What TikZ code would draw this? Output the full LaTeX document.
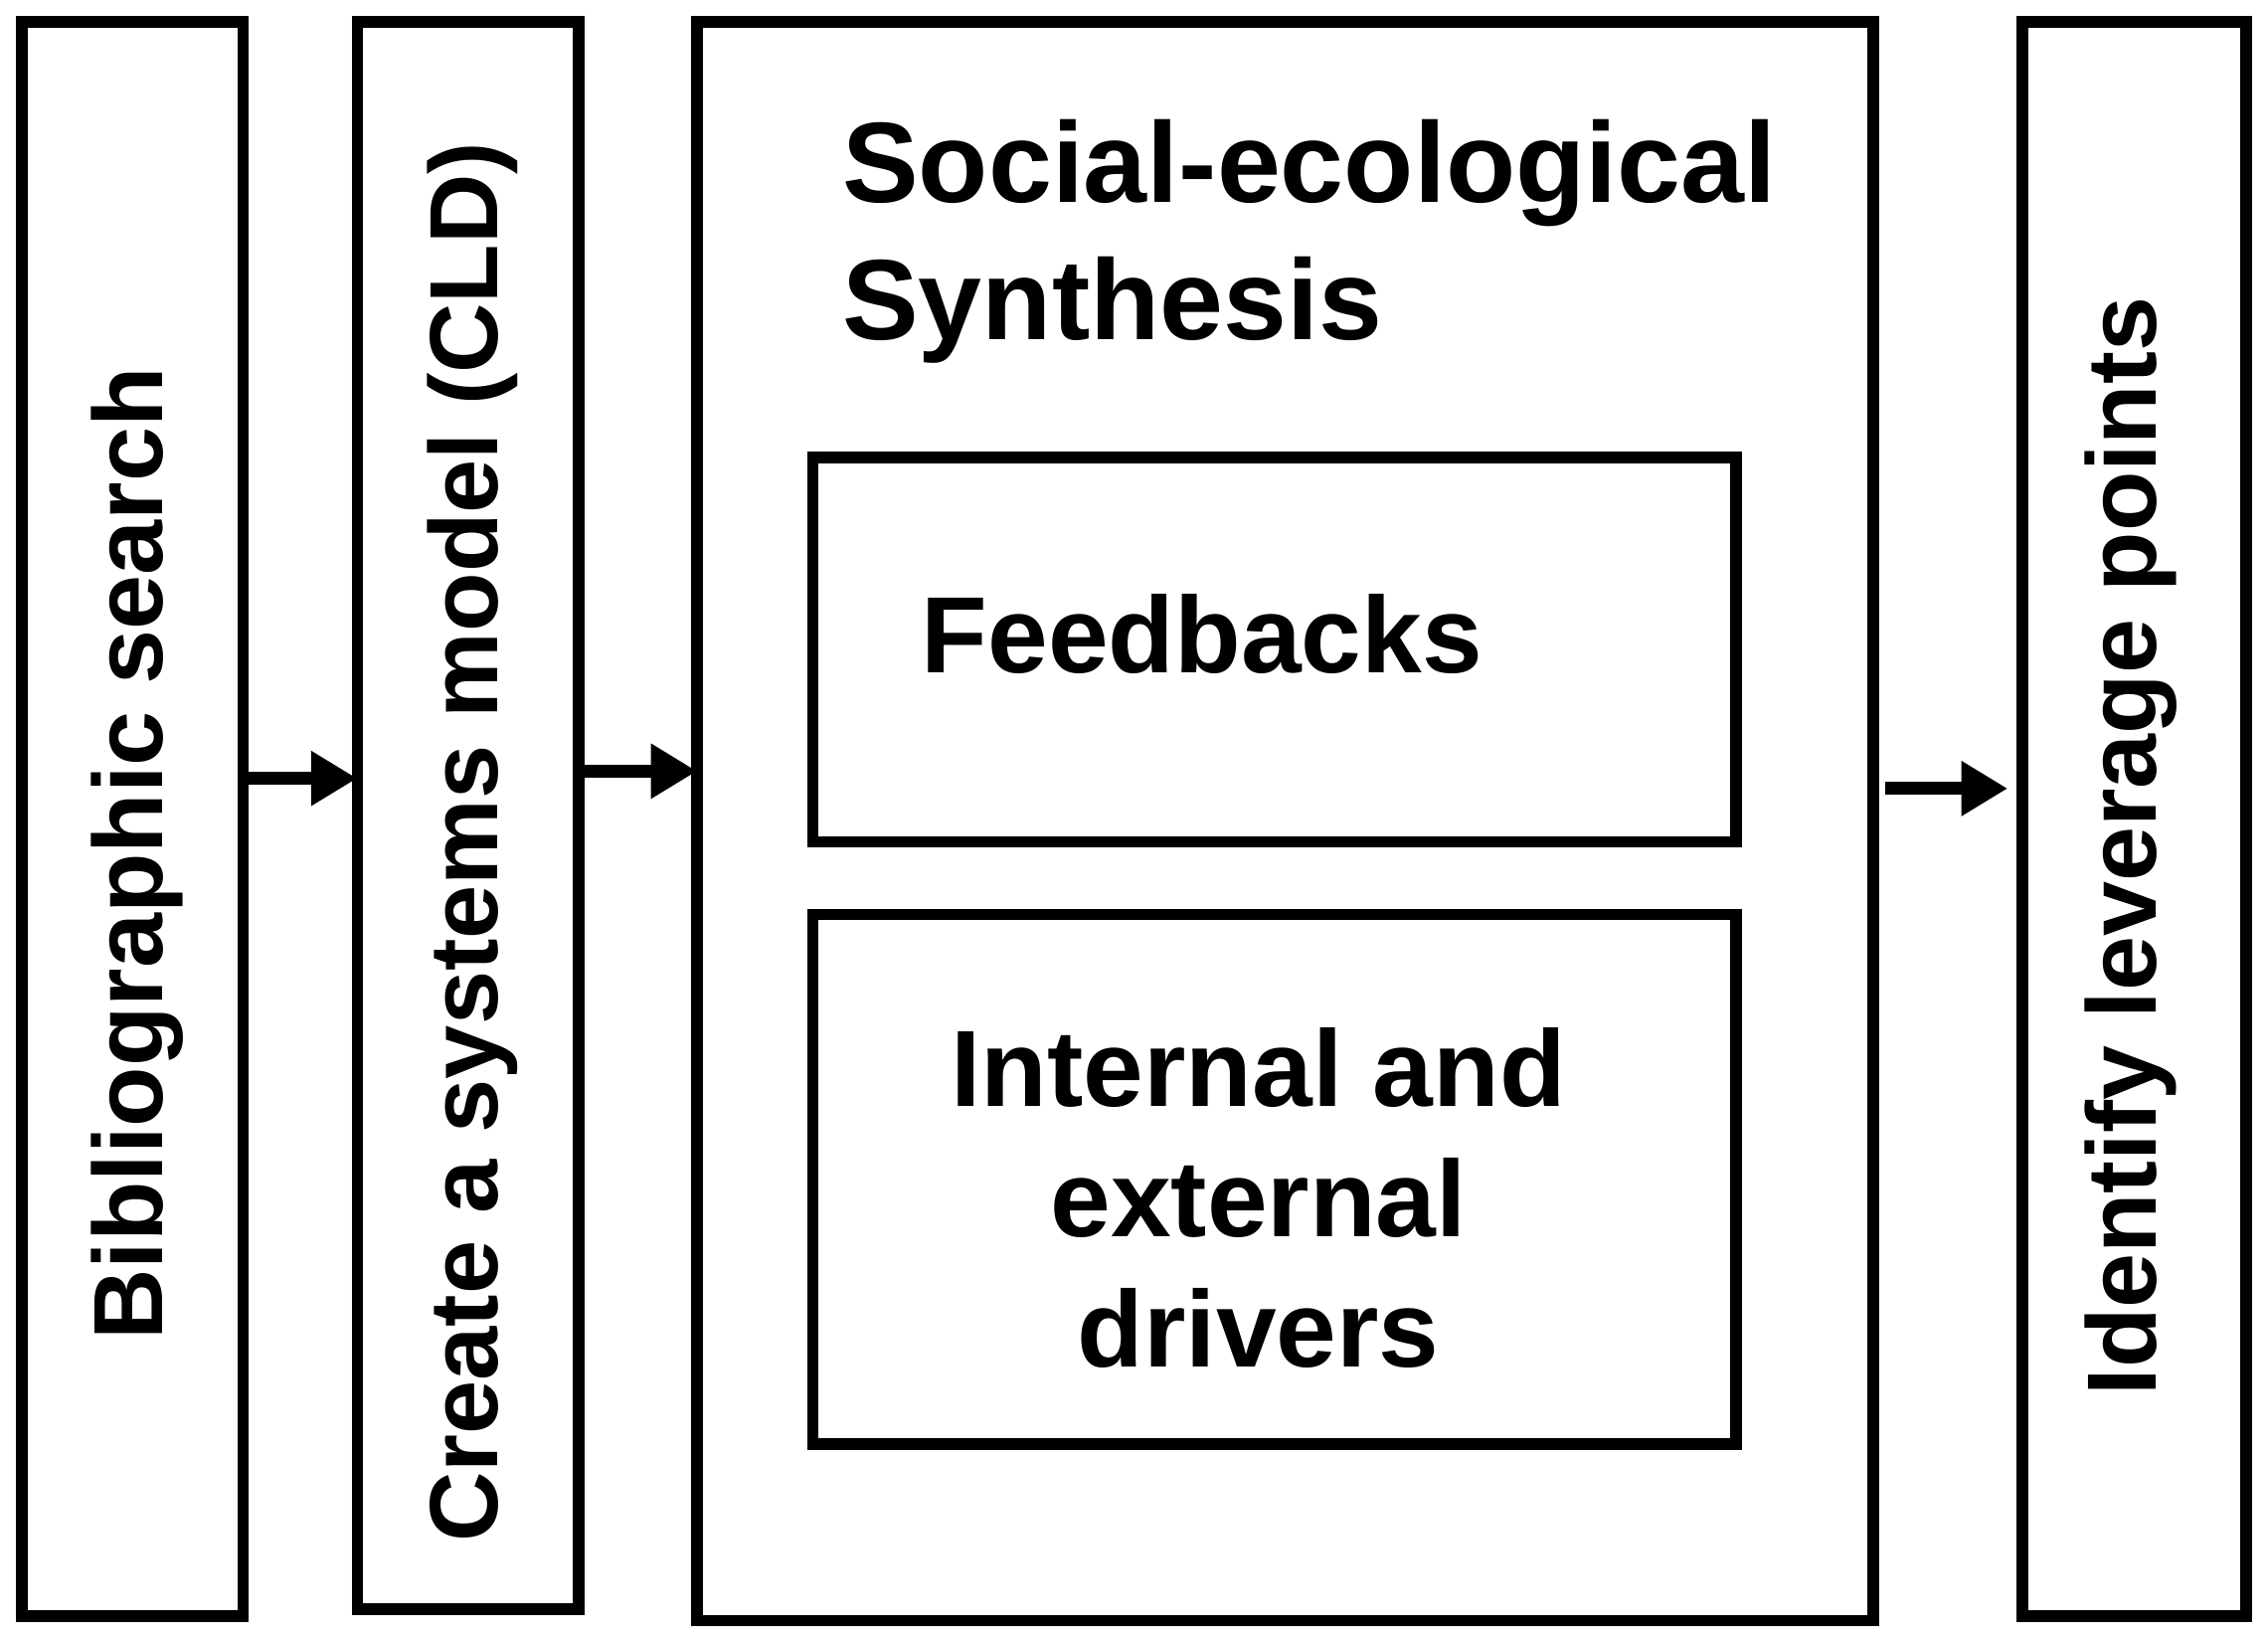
\documentclass[tikz,border=0pt]{standalone}
\usepackage{fontspec}
\setmainfont{Liberation Sans}
\usetikzlibrary{arrows.meta}
\begin{document}
\begin{tikzpicture}[x=0.5pt,y=-0.5pt,
  box/.style={draw,line width=4pt},
  lbl/.style={font=\bfseries\fontsize{37.5}{45}\selectfont,inner sep=0pt},
  vlbl/.style={font=\bfseries\fontsize{34}{40}\selectfont,inner sep=0pt,rotate=90},
  arr/.style={line width=4.5pt,-{Triangle[length=16pt,width=18pt]}}]
\useasboundingbox (0,0) rectangle (1568,1132);
\draw[box] (15,15) rectangle (168,1117);
\draw[box] (247,15) rectangle (400,1112);
\draw[box] (482,15) rectangle (1295,1120);
\draw[box] (562,316) rectangle (1200,582);
\draw[box] (562,632) rectangle (1200,998);
\draw[box] (1398,15) rectangle (1553,1117);
\node[vlbl] (t1) at (95,590) {Bibliographic search};
\node[vlbl,font=\bfseries\fontsize{33.5}{38}\selectfont] (t2) at (327,582) {Create a systems model (CLD)};
\node[vlbl] (t5) at (1473,585) {Identify leverage points};
\node[lbl,align=left,anchor=north west,font=\bfseries\fontsize{39.5}{47.5}\selectfont] (t3) at (582,82) {Social-ecological\\Synthesis};
\node[lbl] (t4) at (831,438) {Feedbacks};
\node[lbl,align=center] (t6) at (870,828) {Internal and\\external\\drivers};
\coordinate (a1s) at (170,538); \coordinate (a1e) at (247,538);
\coordinate (a2s) at (402,533); \coordinate (a2e) at (482,533);
\coordinate (a3s) at (1303,545); \coordinate (a3e) at (1388,545);
\draw[arr] (a1s) -- (a1e);
\draw[arr] (a2s) -- (a2e);
\draw[arr] (a3s) -- (a3e);
\end{tikzpicture}
\end{document}
